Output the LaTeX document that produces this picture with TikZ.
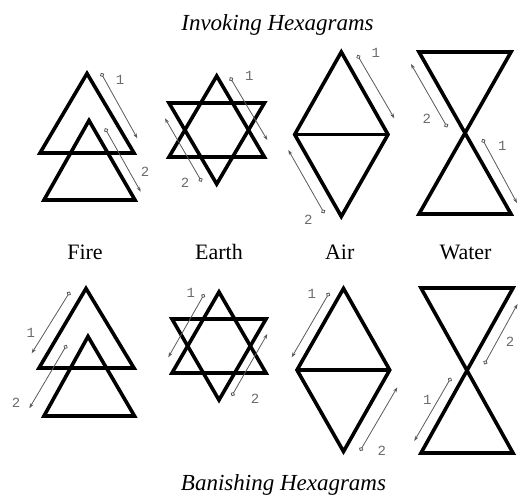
\documentclass[tikz,border=0pt]{standalone}
\usepackage{fontspec}
\setmainfont{Liberation Serif}
\newfontfamily\monofam{Liberation Mono}
\usetikzlibrary{arrows.meta}
\begin{document}
\begin{tikzpicture}[x=1pt,y=-1pt,
  glyph/.style={line width=3.6pt, line join=miter, draw=black},
  strokearrow/.style={draw=black!65, line width=0.8pt,
    {Circle[open,length=4.4pt,width=4.4pt,line width=0.8pt]}-{Stealth[length=5pt,width=3.6pt]}},
  stepnum/.style={text=black!58, font=\monofam\fontsize{14}{14}\selectfont, inner sep=0pt},
  elemtext/.style={font=\fontsize{22}{22}\selectfont, anchor=base, inner sep=0pt},
  headtext/.style={font=\itshape\fontsize{23}{23}\selectfont, anchor=base, inner sep=0pt}]
\useasboundingbox (0,0) rectangle (519,497);

% titles and element names
\node[headtext] (tinv) at (277.5,30.5) {Invoking Hexagrams};
\node[headtext] (tban) at (283.5,490) {Banishing Hexagrams};
\node[elemtext] (lfire) at (85,259) {Fire};
\node[elemtext] (learth) at (219,259) {Earth};
\node[elemtext] (lair) at (339.7,259) {Air};
\node[elemtext] (lwater) at (465.5,259) {Water};

% ---------- Invoking row ----------
% Fire
\coordinate (fiUa) at (87,73.5); \coordinate (fiUl) at (40,153); \coordinate (fiUr) at (134,153);
\coordinate (fiLa) at (89,120.5); \coordinate (fiLl) at (44,200); \coordinate (fiLr) at (135,200);
\draw[glyph] (fiUa) -- (fiUr) -- (fiUl) -- cycle;
\draw[glyph] (fiLa) -- (fiLr) -- (fiLl) -- cycle;
\coordinate (fiA1s) at (101,73); \coordinate (fiA1e) at (137.3,138.3);
\coordinate (fiA2s) at (105,128.3); \coordinate (fiA2e) at (140.7,191.7);
\draw[strokearrow] (fiA1s) -- (fiA1e);
\draw[strokearrow] (fiA2s) -- (fiA2e);
\node[stepnum] (fin1) at (120,80) {1};
\node[stepnum] (fin2) at (145,171.7) {2};

% Earth
\coordinate (eiUa) at (216.7,76); \coordinate (eiUl) at (169,157); \coordinate (eiUr) at (264.4,157);
\coordinate (eiDa) at (216.7,184); \coordinate (eiDl) at (169,103); \coordinate (eiDr) at (264.4,103);
\draw[glyph] (eiUa) -- (eiUr) -- (eiUl) -- cycle;
\draw[glyph] (eiDa) -- (eiDr) -- (eiDl) -- cycle;
\coordinate (eiA1s) at (230,77.3); \coordinate (eiA1e) at (267.3,140);
\coordinate (eiA2s) at (201.7,181.7); \coordinate (eiA2e) at (165,118.3);
\draw[strokearrow] (eiA1s) -- (eiA1e);
\draw[strokearrow] (eiA2s) -- (eiA2e);
\node[stepnum] (ein1) at (249.3,76) {1};
\node[stepnum] (ein2) at (185,183.3) {2};

% Air
\coordinate (aiT) at (341.3,52); \coordinate (aiR) at (388,134.5);
\coordinate (aiB) at (341.3,216.5); \coordinate (aiL) at (294.7,134.5);
\draw[glyph] (aiT) -- (aiR) -- (aiB) -- (aiL) -- cycle;
\draw[glyph] (aiL) -- (aiR);
\coordinate (aiA1s) at (357.3,55); \coordinate (aiA1e) at (394.3,118.3);
\coordinate (aiA2s) at (324.3,213.3); \coordinate (aiA2e) at (288.3,150);
\draw[strokearrow] (aiA1s) -- (aiA1e);
\draw[strokearrow] (aiA2s) -- (aiA2e);
\node[stepnum] (ain1) at (375.7,52.7) {1};
\node[stepnum] (ain2) at (308.3,220) {2};

% Water
\coordinate (wiTL) at (419,52); \coordinate (wiTR) at (511,52);
\coordinate (wiBL) at (419,214); \coordinate (wiBR) at (511,214);
\draw[glyph] (wiTL) -- (wiTR) -- (wiBL) -- (wiBR) -- cycle;
\coordinate (wiA2s) at (447.3,127.3); \coordinate (wiA2e) at (411,64);
\coordinate (wiA1s) at (482.3,139); \coordinate (wiA1e) at (517,203);
\draw[strokearrow] (wiA1s) -- (wiA1e);
\draw[strokearrow] (wiA2s) -- (wiA2e);
\node[stepnum] (win1) at (502.3,146) {1};
\node[stepnum] (win2) at (426.7,119) {2};

% ---------- Banishing row ----------
% Fire
\coordinate (fbUa) at (86,288.5); \coordinate (fbUl) at (39,368); \coordinate (fbUr) at (134,368);
\coordinate (fbLa) at (88,336.5); \coordinate (fbLl) at (44,416); \coordinate (fbLr) at (134.5,416);
\draw[glyph] (fbUa) -- (fbUr) -- (fbUl) -- cycle;
\draw[glyph] (fbLa) -- (fbLr) -- (fbLl) -- cycle;
\coordinate (fbA1s) at (70,291.7); \coordinate (fbA1e) at (31.7,353.3);
\coordinate (fbA2s) at (66.7,345); \coordinate (fbA2e) at (29.3,408.3);
\draw[strokearrow] (fbA1s) -- (fbA1e);
\draw[strokearrow] (fbA2s) -- (fbA2e);
\node[stepnum] (fbn1) at (30.7,333) {1};
\node[stepnum] (fbn2) at (16,403) {2};

% Earth
\coordinate (ebUa) at (219,292); \coordinate (ebUl) at (172,373); \coordinate (ebUr) at (266,373);
\coordinate (ebDa) at (219,400); \coordinate (ebDl) at (172,319); \coordinate (ebDr) at (266,319);
\draw[glyph] (ebUa) -- (ebUr) -- (ebUl) -- cycle;
\draw[glyph] (ebDa) -- (ebDr) -- (ebDl) -- cycle;
\coordinate (ebA1s) at (204.3,294); \coordinate (ebA1e) at (168.3,357.3);
\coordinate (ebA2s) at (231.7,396); \coordinate (ebA2e) at (267.3,334);
\draw[strokearrow] (ebA1s) -- (ebA1e);
\draw[strokearrow] (ebA2s) -- (ebA2e);
\node[stepnum] (ebn1) at (190.7,292.7) {1};
\node[stepnum] (ebn2) at (255,399.3) {2};

% Air
\coordinate (abT) at (343.5,288.5); \coordinate (abR) at (389.7,370);
\coordinate (abB) at (343.5,451.5); \coordinate (abL) at (297,370);
\draw[glyph] (abT) -- (abR) -- (abB) -- (abL) -- cycle;
\draw[glyph] (abL) -- (abR);
\coordinate (abA1s) at (329.3,292.7); \coordinate (abA1e) at (291.7,357.3);
\coordinate (abA2s) at (360,451); \coordinate (abA2e) at (397.3,387.3);
\draw[strokearrow] (abA1s) -- (abA1e);
\draw[strokearrow] (abA2s) -- (abA2e);
\node[stepnum] (abn1) at (311.7,294) {1};
\node[stepnum] (abn2) at (381.7,451) {2};

% Water
\coordinate (wbTL) at (421,288); \coordinate (wbTR) at (513,288);
\coordinate (wbBL) at (421,453); \coordinate (wbBR) at (513,453);
\draw[glyph] (wbTL) -- (wbTR) -- (wbBL) -- (wbBR) -- cycle;
\coordinate (wbA2s) at (484.3,364.3); \coordinate (wbA2e) at (517.5,304);
\coordinate (wbA1s) at (451,377.7); \coordinate (wbA1e) at (414.3,441);
\draw[strokearrow] (wbA1s) -- (wbA1e);
\draw[strokearrow] (wbA2s) -- (wbA2e);
\node[stepnum] (wbn1) at (427.3,400) {1};
\node[stepnum] (wbn2) at (510,341.7) {2};
\end{tikzpicture}
\end{document}
